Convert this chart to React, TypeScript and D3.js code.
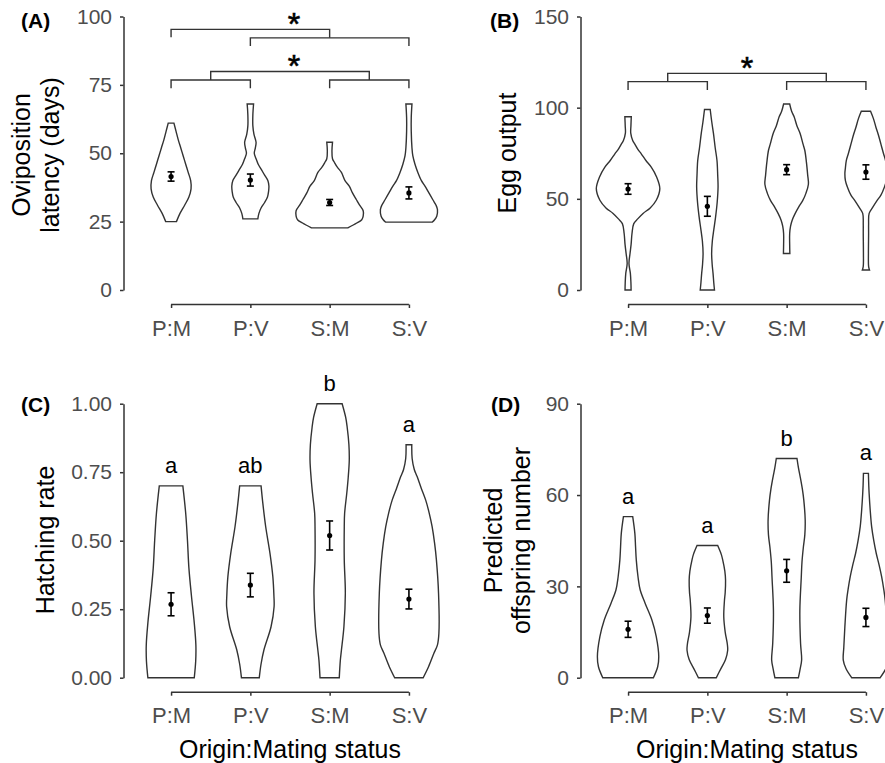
import React, { useRef, useEffect } from "react";
import * as d3 from "d3";

const FONT = "'Liberation Sans', Arial, Helvetica, sans-serif";

const categories = ["P:M", "P:V", "S:M", "S:V"];

// (A) oviposition latency
const latencyTicks = [0, 25, 50, 75, 100];
const latencyMean = [41.5, 40.2, 32, 35.5];
const latencySe = [1.7, 2.2, 1.1, 2.2];
// [value, density] - density 1 = widest violin
const latencyViolins = [
  [[61, 0.08], [58, 0.14], [55, 0.2], [52, 0.27], [49, 0.34], [46, 0.41], [43, 0.48], [40, 0.55], [37, 0.56], [34, 0.5], [31, 0.38], [28, 0.25], [25, 0.15]],
  [[68, 0.09], [64, 0.07], [60, 0.07], [57, 0.1], [54, 0.16], [52, 0.14], [50, 0.11], [48, 0.16], [46, 0.22], [44, 0.31], [42, 0.4], [40, 0.49], [38, 0.52], [36, 0.51], [34, 0.48], [32, 0.4], [30, 0.3], [28, 0.24], [26, 0.21]],
  [[54, 0.08], [51, 0.065], [48, 0.08], [46.5, 0.14], [45, 0.21], [43, 0.33], [40, 0.43], [38, 0.55], [35.5, 0.64], [33, 0.75], [31, 0.84], [29, 0.94], [27, 0.94], [25.7, 0.9], [24.5, 0.76], [22.7, 0.51]],
  [[68, 0.085], [63, 0.065], [58, 0.065], [52, 0.085], [49, 0.11], [46, 0.17], [43, 0.25], [40, 0.35], [38, 0.45], [35.5, 0.56], [33, 0.67], [31, 0.76], [29.4, 0.8], [27, 0.78], [25.7, 0.72], [24.8, 0.65]],
];
const latencyBrackets = [
  [[0, 92.4], [0, 95.3], [2, 95.3], [2, 92.2]],
  [[1, 89.2], [1, 92.2], [3, 92.2], [3, 89.2]],
  [[0.5, 76.8], [0.5, 79.9], [2.5, 79.9], [2.5, 76.8]],
  [[0, 73.8], [0, 76.8], [1, 76.8], [1, 73.8]],
  [[2, 73.8], [2, 76.8], [3, 76.8], [3, 73.8]],
];
const latencyStars = [[1.55, 99.9], [1.55, 84.6]];

// (B) egg output
const eggTicks = [0, 50, 100, 150];
const eggMean = [55.4, 45.9, 66, 64.7];
const eggSe = [2.9, 5.45, 2.75, 3.95];
const eggViolins = [
  [[95, 0.09], [90, 0.08], [86, 0.075], [82, 0.13], [80, 0.19], [77, 0.28], [74.7, 0.37], [71, 0.5], [67.4, 0.65], [62, 0.8], [55.6, 0.89], [49.2, 0.79], [45, 0.62], [42, 0.42], [39, 0.27], [36.4, 0.16], [31, 0.11], [25, 0.085], [20, 0.055], [14.6, 0.025], [9, 0.065], [4, 0.08], [0, 0.085]],
  [[99, 0.08], [92, 0.125], [86, 0.17], [78, 0.22], [71, 0.27], [63, 0.29], [56.5, 0.3], [48, 0.275], [40, 0.23], [33, 0.18], [27, 0.14], [20, 0.12], [14, 0.135], [9, 0.16], [4, 0.18], [0, 0.2]],
  [[102, 0.085], [98, 0.14], [95, 0.21], [90, 0.29], [85.7, 0.38], [80, 0.46], [76.5, 0.51], [70, 0.555], [63, 0.59], [58, 0.61], [53, 0.54], [49, 0.45], [45.6, 0.34], [42, 0.24], [38.3, 0.155], [35, 0.11], [31, 0.085], [25, 0.085], [20, 0.09]],
  [[98, 0.13], [94, 0.21], [89.3, 0.28], [85, 0.35], [80, 0.42], [75, 0.49], [71, 0.55], [67, 0.575], [63.8, 0.59], [60, 0.575], [56.5, 0.52], [52, 0.42], [49, 0.31], [45, 0.18], [42, 0.09], [36, 0.075], [31, 0.075], [20, 0.07], [13, 0.075], [11, 0.1]],
];
const eggBrackets = [
  [[0.5, 114.3], [0.5, 118.8], [2.5, 118.8], [2.5, 114.3]],
  [[0, 109.7], [0, 114.3], [1, 114.3], [1, 109.7]],
  [[2, 109.7], [2, 114.3], [3, 114.3], [3, 109.7]],
];
const eggStars = [[1.5, 125.7]];

// (C) hatching rate
const hatchTicks = [0, 0.25, 0.5, 0.75, 1];
const hatchMean = [0.268, 0.338, 0.519, 0.287];
const hatchSe = [0.042, 0.043, 0.053, 0.036];
const hatchLetters = ["a", "ab", "b", "a"];
const hatchViolins = [
  [[0.7, 0.33], [0.6, 0.41], [0.5, 0.46], [0.4, 0.5], [0.3, 0.57], [0.2, 0.65], [0.12, 0.695], [0.06, 0.69], [0, 0.65]],
  [[0.7, 0.3], [0.636, 0.35], [0.551, 0.43], [0.454, 0.55], [0.369, 0.63], [0.3, 0.66], [0.259, 0.665], [0.186, 0.58], [0.101, 0.38], [0.05, 0.3], [0, 0.25]],
  [[1, 0.35], [0.95, 0.45], [0.916, 0.49], [0.85, 0.54], [0.794, 0.55], [0.73, 0.52], [0.673, 0.48], [0.6, 0.42], [0.551, 0.41], [0.43, 0.41], [0.308, 0.44], [0.186, 0.4], [0.1, 0.33], [0.064, 0.3], [0, 0.27]],
  [[0.85, 0.08], [0.8, 0.09], [0.76, 0.15], [0.734, 0.23], [0.69, 0.35], [0.648, 0.47], [0.6, 0.57], [0.551, 0.65], [0.49, 0.72], [0.43, 0.77], [0.308, 0.83], [0.162, 0.84], [0.12, 0.8], [0.089, 0.7], [0.04, 0.55], [0, 0.4]],
];

// (D) predicted offspring number
const offspringTicks = [0, 30, 60, 90];
const offspringMean = [15.9, 20.4, 35.1, 19.8];
const offspringSe = [2.65, 2.5, 3.75, 3.0];
const offspringLetters = ["a", "a", "b", "a"];
const offspringViolins = [
  [[52.9, 0.13], [47.4, 0.19], [43, 0.21], [38.7, 0.23], [33, 0.28], [28.8, 0.34], [24.4, 0.48], [18.9, 0.67], [13.5, 0.79], [6.9, 0.86], [3.6, 0.83], [0, 0.71]],
  [[43.4, 0.29], [40.5, 0.39], [38.7, 0.43], [35, 0.49], [32, 0.51], [28, 0.5], [25.5, 0.48], [20, 0.46], [15, 0.5], [11, 0.56], [9, 0.57], [6, 0.51], [3, 0.38], [0, 0.25]],
  [[72, 0.29], [69, 0.33], [66, 0.38], [62, 0.44], [58.4, 0.48], [51.8, 0.52], [47, 0.51], [43, 0.47], [38, 0.43], [33, 0.41], [22, 0.37], [11.3, 0.39], [5.8, 0.42], [3, 0.38], [0, 0.33]],
  [[67.1, 0.07], [63, 0.08], [60.5, 0.09], [55, 0.12], [49.6, 0.16], [45, 0.22], [40.8, 0.29], [37, 0.37], [33.2, 0.44], [29, 0.5], [25.5, 0.54], [16.8, 0.59], [10, 0.62], [5.8, 0.635], [3, 0.56], [0, 0.4]],
];

const panels = [
  { tag: "(A)", tagX: 21, tagY: 28, title: ["Oviposition", "latency (days)"], titleX: [30, 59], titleY: 155,
    ticks: latencyTicks, fmt: d3.format("d"), violins: latencyViolins, mean: latencyMean, se: latencySe,
    brackets: latencyBrackets, stars: latencyStars, letters: null, left: 123.5, top: 16.5, bottom: 290, xTitle: false },
  { tag: "(B)", tagX: 490, tagY: 28, title: ["Egg output"], titleX: [516], titleY: 153,
    ticks: eggTicks, fmt: d3.format("d"), violins: eggViolins, mean: eggMean, se: eggSe,
    brackets: eggBrackets, stars: eggStars, letters: null, left: 580.5, top: 16.5, bottom: 290, xTitle: false },
  { tag: "(C)", tagX: 21, tagY: 412, title: ["Hatching rate"], titleX: [53.5], titleY: 540,
    ticks: hatchTicks, fmt: d3.format(".2f"), violins: hatchViolins, mean: hatchMean, se: hatchSe,
    brackets: [], stars: [], letters: hatchLetters, left: 123.5, top: 403.7, bottom: 677.7, xTitle: true },
  { tag: "(D)", tagX: 491, tagY: 412, title: ["Predicted", "offspring number"], titleX: [502, 529.5], titleY: 540.5,
    ticks: offspringTicks, fmt: d3.format("d"), violins: offspringViolins, mean: offspringMean, se: offspringSe,
    brackets: [], stars: [], letters: offspringLetters, left: 580.5, top: 403.7, bottom: 677.7, xTitle: true },
];

function drawPanel(g, p) {
  const x = d3.scalePoint().domain(categories).range([p.left, p.left + 333]).padding(0.6);
  const idx = d3.scaleLinear().domain([0, 3]).range([x(categories[0]), x(categories[3])]);
  const y = d3.scaleLinear().domain([0, p.ticks[p.ticks.length - 1]]).range([p.bottom, p.top]);
  const w = d3.scaleLinear().domain([0, 1]).range([0, x.step() * 0.45]);
  const axisY = p.bottom + 14.5;

  // violins
  p.violins.forEach((v, i) => {
    const cx = x(categories[i]);
    const area = d3.area()
      .y((d) => y(d[0]))
      .x0((d) => cx - w(d[1]))
      .x1((d) => cx + w(d[1]))
      .curve(d3.curveCatmullRom);
    g.append("path").attr("d", area(v)).attr("fill", "white")
      .attr("stroke", "#333").attr("stroke-width", 1.4);
  });

  // mean +/- se
  p.mean.forEach((m, i) => {
    const cx = x(categories[i]);
    const lo = y(m - p.se[i]);
    const hi = y(m + p.se[i]);
    const eb = g.append("g").attr("stroke", "black").attr("stroke-width", 1.6);
    eb.append("line").attr("x1", cx).attr("x2", cx).attr("y1", lo).attr("y2", hi);
    eb.append("line").attr("x1", cx - 3.5).attr("x2", cx + 3.5).attr("y1", lo).attr("y2", lo);
    eb.append("line").attr("x1", cx - 3.5).attr("x2", cx + 3.5).attr("y1", hi).attr("y2", hi);
    g.append("circle").attr("cx", cx).attr("cy", y(m)).attr("r", 2.6).attr("fill", "black");
  });

  // significance brackets
  const line = d3.line().x((d) => idx(d[0])).y((d) => y(d[1]));
  p.brackets.forEach((b) => {
    g.append("path").attr("d", line(b)).attr("fill", "none")
      .attr("stroke", "#333").attr("stroke-width", 1.4);
  });
  p.stars.forEach((s) => {
    g.append("text").attr("x", idx(s[0])).attr("y", y(s[1]) + 18.5)
      .attr("text-anchor", "middle").attr("font-family", FONT).attr("font-size", 32)
      .attr("stroke", "black").attr("stroke-width", 0.6)
      .text("*");
  });

  // group letters
  if (p.letters) {
    p.letters.forEach((l, i) => {
      const top = d3.max(p.violins[i], (d) => d[0]);
      g.append("text").attr("x", x(categories[i])).attr("y", y(top) - 13)
        .attr("text-anchor", "middle").attr("font-family", FONT).attr("font-size", 22)
        .text(l);
    });
  }

  // y axis
  const ya = g.append("g").attr("transform", `translate(${p.left},0)`)
    .call(d3.axisLeft(y).tickValues(p.ticks).tickFormat(p.fmt).tickSize(3.5).tickSizeOuter(0).tickPadding(8));
  ya.select(".domain").attr("stroke", "#333").attr("stroke-width", 1.5);
  ya.selectAll(".tick line").attr("stroke", "#333").attr("stroke-width", 1.5);
  ya.selectAll(".tick text").attr("font-family", FONT).attr("font-size", 21).attr("fill", "#4D4D4D");

  // x axis (capped at first/last category)
  const xa = g.append("g").attr("transform", `translate(0,${axisY})`)
    .call(d3.axisBottom(x).tickSize(3.5).tickSizeOuter(0).tickPadding(12));
  xa.select(".domain").remove();
  xa.append("line").attr("x1", x(categories[0])).attr("x2", x(categories[3]))
    .attr("stroke", "#333").attr("stroke-width", 1.5);
  xa.selectAll(".tick line").attr("stroke", "#333").attr("stroke-width", 1.5);
  xa.selectAll(".tick text").attr("font-family", FONT).attr("font-size", 22).attr("fill", "#4D4D4D");

  // titles
  p.title.forEach((t, i) => {
    g.append("text").attr("transform", `translate(${p.titleX[i]},${p.titleY}) rotate(-90)`)
      .attr("text-anchor", "middle").attr("font-family", FONT).attr("font-size", 25)
      .text(t);
  });
  if (p.xTitle) {
    g.append("text").attr("x", idx(1.5)).attr("y", 757.5)
      .attr("text-anchor", "middle").attr("font-family", FONT).attr("font-size", 25)
      .attr("textLength", 222).attr("lengthAdjust", "spacingAndGlyphs")
      .text("Origin:Mating status");
  }
  g.append("text").attr("x", p.tagX).attr("y", p.tagY)
    .attr("font-family", FONT).attr("font-size", 21).attr("font-weight", "bold")
    .text(p.tag);
}

export default function App() {
  const ref = useRef(null);

  useEffect(() => {
    const svg = d3.select(ref.current);
    svg.selectAll("*").remove();
    panels.forEach((p) => drawPanel(svg.append("g"), p));
  }, []);

  return (
    <svg ref={ref} width={885} height={763}
      style={{ position: "absolute", left: 0, top: 0, background: "white", display: "block" }} />
  );
}
